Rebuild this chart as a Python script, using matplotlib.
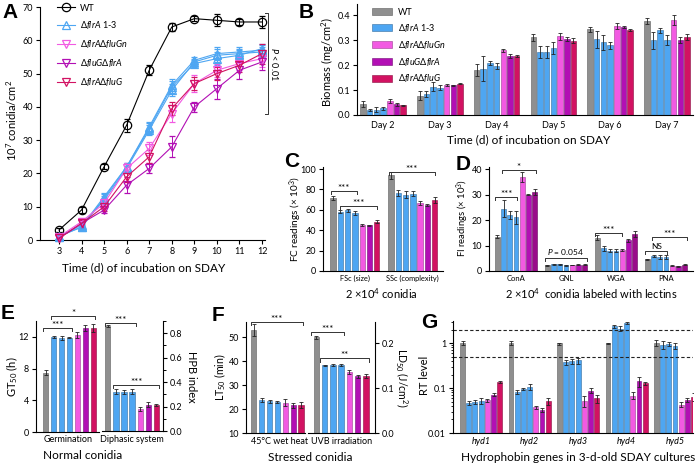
import numpy as np
import matplotlib
matplotlib.use('Agg')
import matplotlib.pyplot as plt
from matplotlib.lines import Line2D
from matplotlib.patches import Patch
from matplotlib.ticker import MultipleLocator, NullFormatter

plt.rcParams['font.family'] = ['Lato', 'DejaVu Sans']
plt.rcParams['mathtext.fontset'] = 'custom'
plt.rcParams['mathtext.rm'] = 'Lato'
plt.rcParams['mathtext.it'] = 'Lato:italic'
plt.rcParams['mathtext.bf'] = 'Lato:bold'
plt.rcParams['mathtext.fallback'] = 'stixsans'
plt.rcParams['axes.linewidth'] = 0.8
plt.rcParams['xtick.major.width'] = 0.8
plt.rcParams['ytick.major.width'] = 0.8
plt.rcParams['xtick.major.size'] = 3
plt.rcParams['ytick.major.size'] = 3
plt.rcParams['xtick.labelsize'] = 6.5
plt.rcParams['ytick.labelsize'] = 6.5
plt.rcParams['xtick.major.pad'] = 2
plt.rcParams['ytick.major.pad'] = 2

# ---------------- data ----------------
strain_labels = ['WT', r'$\Delta\mathit{flrA}$ 1-3', r'$\Delta\mathit{flrA}\Delta\mathit{fluGn}$',
                 r'$\Delta\mathit{fluG}\Delta\mathit{flrA}$', r'$\Delta\mathit{flrA}\Delta\mathit{fluG}$']
c_wt, c_blue, c_pink, c_purple, c_crim = '#8f8f8f', '#4ea6f2', '#f25ae2', '#b20fb4', '#d21262'
c_dpurple = '#9a0c8a'
bar_colors = [c_wt, c_blue, c_blue, c_blue, c_pink, c_purple, c_crim]
bar_colors_d = [c_wt, c_blue, c_blue, c_blue, c_pink, c_purple, c_dpurple]

# Panel A
days_a = [3, 4, 5, 6, 7, 8, 9, 10, 11, 12]
wt_a = [3, 9, 22, 34.5, 51, 64, 66.5, 66, 65.5, 65.5]
wt_a_err = [0.5, 0.8, 0.8, 2, 1.5, 1.3, 0.8, 1.8, 1, 1.8]
flrA1_a = [1, 4, 13, 22, 34, 46.5, 54, 56, 56.5, 57]
flrA2_a = [1, 4.5, 12, 21.5, 33, 45, 53.5, 55.5, 56, 56.5]
flrA3_a = [1.2, 3.8, 12.5, 22, 33.5, 46, 53, 54.5, 55.5, 57.5]
flrA_a_err = [0.5, 0.8, 1.2, 1.2, 1.5, 1.8, 1, 2, 1.5, 1.5]
fluGn_a = [1, 5.5, 11, 21.5, 27.5, 38, 47, 51, 53, 54.5]
fluGn_a_err = [0.5, 1.2, 1.5, 1.5, 2, 2.5, 2.5, 2, 2, 2.5]
fluGflrA_a = [0.5, 5, 9, 16.5, 21.5, 28, 40, 45.5, 51, 53.5]
fluGflrA_a_err = [0.5, 1, 1, 2.5, 1.5, 3.2, 1.5, 3, 2.5, 2.5]
flrAfluG_a = [0.5, 5, 10, 19, 25, 39.5, 47, 50, 52.5, 56]
flrAfluG_a_err = [0.5, 1, 1.2, 1.5, 2, 2, 2, 2, 2, 3]

# Panel B
days_b = ['Day 2', 'Day 3', 'Day 4', 'Day 5', 'Day 6', 'Day 7']
biomass = [[0.043, 0.020, 0.022, 0.027, 0.056, 0.044, 0.039],
           [0.078, 0.085, 0.113, 0.110, 0.120, 0.120, 0.126],
           [0.180, 0.185, 0.209, 0.195, 0.259, 0.236, 0.238],
           [0.311, 0.252, 0.253, 0.268, 0.315, 0.305, 0.298],
           [0.344, 0.303, 0.292, 0.279, 0.357, 0.352, 0.341],
           [0.378, 0.299, 0.340, 0.302, 0.380, 0.300, 0.313]]
biomass_err = [[0.012, 0.003, 0.010, 0.007, 0.007, 0.006, 0.003],
               [0.018, 0.012, 0.018, 0.010, 0.005, 0.002, 0.003],
               [0.025, 0.050, 0.008, 0.012, 0.006, 0.008, 0.004],
               [0.013, 0.025, 0.025, 0.025, 0.013, 0.008, 0.010],
               [0.010, 0.035, 0.030, 0.015, 0.012, 0.003, 0.004],
               [0.012, 0.035, 0.010, 0.020, 0.020, 0.012, 0.012]]

# Panel C
fc_cats = ['FSc (size)', 'SSc (complexity)']
fc_vals = [[71.5, 58, 59.5, 56.5, 45.5, 44.8, 48.5],
           [94, 76.5, 75, 76, 66.5, 64.8, 70]]
fc_err = [[2, 1.5, 1.5, 2, 1, 0.5, 1.5],
          [3.5, 2.5, 3, 2, 2, 1, 3]]

# Panel D
lectins = ['ConA', 'GNL', 'WGA', 'PNA']
fi_vals = [[13.5, 24.5, 22, 21, 37, 30, 31],
           [2.2, 2.6, 2.6, 2.2, 2.3, 2.5, 2.5],
           [13, 9, 8, 8, 8.3, 12, 14.5],
           [4.7, 6, 5.6, 5.4, 2.1, 1.8, 2.4]]
fi_err = [[0.5, 3.5, 1.5, 2.5, 2, 0.3, 1],
          [0.3, 0.2, 0.2, 0.1, 0.1, 0.1, 0.2],
          [1, 1, 0.7, 0.5, 0.5, 0.5, 1.2],
          [0.2, 0.4, 0.8, 0.8, 0.2, 0.1, 0.2]]

# Panel E
gt50 = [7.5, 11.95, 11.85, 11.9, 12.2, 13.1, 13.1]
gt50_err = [0.3, 0.15, 0.3, 0.05, 0.4, 0.4, 0.5]
hpb = [0.86, 0.32, 0.32, 0.32, 0.18, 0.215, 0.21]
hpb_err = [0.005, 0.02, 0.015, 0.02, 0.015, 0.02, 0.008]

# Panel F
lt50 = [52.8, 23.7, 23.2, 23.0, 22.6, 21.6, 21.6]
lt50_err = [2.5, 0.8, 0.6, 0.5, 1.5, 1.0, 1.2]
ld50 = [0.213, 0.151, 0.151, 0.151, 0.136, 0.126, 0.127]
ld50_err = [0.003, 0.001, 0.002, 0.002, 0.004, 0.004, 0.005]

# Panel G
genes = ['hyd1', 'hyd2', 'hyd3', 'hyd4', 'hyd5']
rt_vals = [[1.0, 0.047, 0.049, 0.052, 0.054, 0.071, 0.135],
           [1.0, 0.081, 0.094, 0.105, 0.037, 0.033, 0.051],
           [0.98, 0.38, 0.39, 0.41, 0.052, 0.088, 0.059],
           [0.98, 2.35, 2.1, 2.75, 0.068, 0.14, 0.128],
           [1.0, 0.93, 0.95, 0.88, 0.043, 0.055, 0.064]]
rt_err = [[0.1, 0.004, 0.005, 0.008, 0.004, 0.006, 0.005],
          [0.1, 0.008, 0.005, 0.015, 0.002, 0.003, 0.008],
          [0.05, 0.05, 0.05, 0.06, 0.015, 0.01, 0.012],
          [0.03, 0.2, 0.25, 0.15, 0.012, 0.035, 0.01],
          [0.15, 0.2, 0.1, 0.15, 0.005, 0.006, 0.012]]

# ---------------- helpers ----------------
W, H = 696, 465
fig = plt.figure(figsize=(W / 100, H / 100), dpi=100)


def ax_px(x0, y0, x1, y1):
    return fig.add_axes([x0 / W, 1 - y1 / H, (x1 - x0) / W, (y1 - y0) / H])


def ftxt(x, y, s, **kw):
    return fig.text(x / W, 1 - y / H, s, **kw)


def letter(x, y, s):
    ftxt(x, y, s, fontsize=15, fontweight='bold', family='Liberation Sans', va='top', ha='left')


def style(ax, right=False):
    ax.spines['top'].set_visible(False)
    if right:
        ax.spines['left'].set_visible(False)
        ax.yaxis.tick_right()
    else:
        ax.spines['right'].set_visible(False)


def darker(c, f=0.65):
    rgb = np.array(matplotlib.colors.to_rgb(c))
    return tuple(rgb * f)


def grouped(ax, centers, vals, errs, pitch, width, colors=bar_colors):
    vals = np.asarray(vals)
    errs = np.asarray(errs)
    centers = np.asarray(centers, dtype=float)
    for i in range(7):
        ax.bar(centers + (i - 3) * pitch, vals[:, i], width, color=colors[i],
               edgecolor=darker(colors[i]), linewidth=0.4,
               yerr=errs[:, i], capsize=1.3,
               error_kw=dict(elinewidth=0.6, capthick=0.6, ecolor='#222222'))


def bracket(ax, x1, x2, y, tick, text, fs=7, dy=0.0):
    ax.plot([x1, x1, x2, x2], [y - tick, y, y, y - tick], color='#333333', lw=0.7,
            clip_on=False)
    ax.annotate(text, ((x1 + x2) / 2, y), xytext=(0, 1 + dy), textcoords='offset points',
                ha='center', va='bottom', fontsize=fs, annotation_clip=False)


def single_group(ax, vals, errs):
    xs = np.arange(7) - 3
    ax.bar(xs, vals, 0.66, color=bar_colors, edgecolor=[darker(c) for c in bar_colors],
           linewidth=0.4, yerr=errs, capsize=1.3,
           error_kw=dict(elinewidth=0.6, capthick=0.6, ecolor='#222222'))
    return xs


# ---------------- Panel A ----------------
axA = ax_px(40, 7, 265, 240)
style(axA)
series_a = [(wt_a, wt_a_err, 'k', 'o'),
            (flrA1_a, flrA_a_err, c_blue, '^'),
            (flrA2_a, flrA_a_err, c_blue, '^'),
            (flrA3_a, flrA_a_err, c_blue, '^'),
            (fluGn_a, fluGn_a_err, c_pink, 'v'),
            (fluGflrA_a, fluGflrA_a_err, c_purple, 'v'),
            (flrAfluG_a, flrAfluG_a_err, c_crim, 'v')]
for y, e, c, m in series_a:
    axA.errorbar(days_a, y, yerr=e, color=c, marker=m, mfc='none', mec=c, ms=6, mew=0.9,
                 lw=0.8, capsize=2.5, elinewidth=0.7, capthick=0.7, clip_on=False, zorder=3)
axA.set_xlim(2.16, 12.13)
axA.set_ylim(0, 70)
axA.set_xticks(days_a)
axA.set_yticks(range(0, 71, 10))
handles_a = [Line2D([], [], color=c, marker=m, mfc='none', ms=6, mew=0.9, lw=0.8)
             for c, m in [('k', 'o'), (c_blue, '^'), (c_pink, 'v'), (c_purple, 'v'), (c_crim, 'v')]]
axA.legend(handles_a, strain_labels, loc='upper left', bbox_to_anchor=(0.06, 1.03),
           frameon=False, fontsize=6.5, handlelength=2.0, labelspacing=0.75,
           handletextpad=0.5, borderaxespad=0)
xb = 12.25
axA.plot([xb - 0.12, xb, xb, xb - 0.12], [68.2, 68.2, 38, 38], color='#333333', lw=0.7,
         clip_on=False)
axA.text(xb + 0.3, 53, r'$\mathit{P}$ < 0.01', rotation=-90, fontsize=6.5, va='center',
         ha='center', clip_on=False)
ftxt(12, 120, r'10$^7$ conidia/cm$^2$', rotation=90, fontsize=8, ha='center', va='center')
ftxt(144, 268, 'Time (d) of incubation on SDAY', fontsize=8.5, ha='center', va='center')
letter(2, 3, 'A')

# ---------------- Panel B ----------------
axB = ax_px(357, 4, 693, 115)
style(axB)
grouped(axB, np.arange(2, 8), biomass, biomass_err, 0.118, 0.097)
axB.set_xlim(1.54, 7.46)
axB.set_ylim(0, 0.445)
axB.set_yticks([0, 0.1, 0.2, 0.3, 0.4])
axB.yaxis.set_major_formatter(matplotlib.ticker.FormatStrFormatter('%.1f'))
axB.set_xticks(np.arange(2, 8))
axB.set_xticklabels(days_b)
axB.tick_params(axis='x', length=0, pad=4)
handles_b = [Patch(facecolor=c, edgecolor=darker(c), lw=0.4)
             for c in [c_wt, c_blue, c_pink, c_purple, c_crim]]
axB.legend(handles_b, strain_labels, loc='upper left', bbox_to_anchor=(0.035, 1.0),
           frameon=False, fontsize=6.5, handlelength=2.2, handleheight=0.9,
           labelspacing=0.55, handletextpad=0.6, borderaxespad=0)
ftxt(328, 62, r'Biomass (mg/cm$^2$)', rotation=90, fontsize=8, ha='center', va='center')
ftxt(529, 140, 'Time (d) of incubation on SDAY', fontsize=8.5, ha='center', va='center')
letter(299, 3, 'B')

# ---------------- Panel C ----------------
axC = ax_px(323, 167, 443, 271)
style(axC)
pC, wC = 0.126, 0.092
grouped(axC, [0, 1], fc_vals, fc_err, pC, wC)
axC.set_xlim(-0.55, 1.52)
axC.set_ylim(0, 102)
axC.set_yticks(range(0, 101, 20))
axC.set_xticks([0, 1])
axC.set_xticklabels(fc_cats, fontsize=5.3)
axC.tick_params(axis='x', length=0, pad=3)
bracket(axC, 0 - 3 * pC - 0.04, 0 + 0 * pC + 0.04, 78.4, 3, '***', dy=-2.5)
bracket(axC, 0 - 2 * pC, 0 + 3 * pC + 0.01, 64, 3, '***', dy=-2.5)
bracket(axC, 1 - 3 * pC - 0.04, 1 + 3 * pC + 0.01, 97, 3, '***', dy=-2.5)
ftxt(296, 219, r'FC readings ($\times$ 10$^3$)', rotation=90, fontsize=7.2, ha='center',
     va='center')
ftxt(381, 294, r'2 $\times$10$^4$ conidia', fontsize=8, ha='center', va='center')
letter(284, 152, 'C')

# ---------------- Panel D ----------------
axD = ax_px(489, 167, 693, 271)
style(axD)
pD, wD = 0.124, 0.095
grouped(axD, [0, 1, 2, 3], fi_vals, fi_err, pD, wD, colors=bar_colors_d)
axD.set_xlim(-0.54, 3.54)
axD.set_ylim(0, 40.8)
axD.set_yticks(range(0, 41, 10))
axD.set_xticks([0, 1, 2, 3])
axD.set_xticklabels(lectins, fontsize=5.5)
axD.tick_params(axis='x', length=0, pad=3)


def pos(g, i, p=pD):
    return g + (i - 3) * p


bracket(axD, pos(0, 0) - 0.04, pos(0, 3) + 0.02, 28.9, 1.2, '***', dy=-2.5)
bracket(axD, pos(0, 1) - 0.04, pos(0, 6) + 0.02, 39.6, 1.2, '*', dy=-2.5)
bracket(axD, pos(1, 0) - 0.04, pos(1, 6) + 0.04, 5.0, 1.2, r'$\mathit{P}$ = 0.054', fs=6)
bracket(axD, pos(2, 0) - 0.04, pos(2, 4) + 0.0, 14.8, 1.2, '***', dy=-2.5)
bracket(axD, pos(3, 0) - 0.04, pos(3, 3) + 0.02, 7.8, 1.2, 'NS', fs=6)
bracket(axD, pos(3, 1) - 0.04, pos(3, 6) + 0.04, 13.5, 1.2, '***', dy=-2.5)
ftxt(463, 218, r'FI readings ($\times$ 10$^3$)', rotation=90, fontsize=6.8, ha='center',
     va='center')
ftxt(591, 294, r'2 $\times$10$^4$  conidia labeled with lectins', fontsize=8, ha='center',
     va='center')
letter(456, 155, 'D')

# ---------------- Panel E ----------------
axE1 = ax_px(36, 321, 99, 432)
style(axE1)
xs7 = single_group(axE1, gt50, gt50_err)
axE1.set_xlim(-4.2, 3.7)
axE1.set_ylim(0, 14)
axE1.set_yticks([0, 4, 8, 12])
axE1.set_xticks([])
bracket(axE1, xs7[0] - 0.3, xs7[3] + 0.3, 13.1, 0.4, '***', dy=-2.5)
bracket(axE1, xs7[1] - 0.3, xs7[6] + 0.2, 14.6, 0.4, '*', dy=-2.5)

axE2 = ax_px(102, 321, 163, 431)
style(axE2, right=True)
single_group(axE2, hpb, hpb_err)
axE2.set_xlim(-3.7, 3.8)
axE2.set_ylim(0, 0.9)
axE2.set_yticks([0, 0.2, 0.4, 0.6, 0.8])
axE2.yaxis.set_minor_locator(MultipleLocator(0.1))
axE2.tick_params(axis='y', which='minor', length=2, width=0.7)
axE2.yaxis.set_major_formatter(matplotlib.ticker.FormatStrFormatter('%.1f'))
axE2.set_xticks([])
bracket(axE2, xs7[0] - 0.3, xs7[3] + 0.5, 0.887, 0.025, '***', dy=-2.5)
bracket(axE2, xs7[1] - 0.3, xs7[6] + 0.3, 0.375, 0.025, '***', dy=-2.5)
ftxt(68, 439, 'Germination', fontsize=6.5, ha='center', va='center')
ftxt(132, 439, 'Diphasic system', fontsize=6.5, ha='center', va='center')
ftxt(83, 455, 'Normal conidia', fontsize=8.5, ha='center', va='center')
ftxt(12, 377, r'GT$_{50}$ (h)', rotation=90, fontsize=8, ha='center', va='center')
ftxt(192, 377, 'HPB index', rotation=-90, fontsize=8, ha='center', va='center')
letter(1, 304, 'E')

# ---------------- Panel F ----------------
axF1 = ax_px(246, 322, 305, 433)
style(axF1)
single_group(axF1, lt50, lt50_err)
axF1.set_xlim(-4.0, 3.5)
axF1.set_ylim(10, 56.3)
axF1.set_yticks([10, 20, 30, 40, 50])
axF1.set_xticks([])
bracket(axF1, xs7[0] - 0.4, xs7[6] + 0.2, 56.4, 1.2, '***', dy=-2.5)

axF2 = ax_px(308, 322, 375, 433)
style(axF2, right=True)
single_group(axF2, ld50, ld50_err)
axF2.set_xlim(-4.0, 4.1)
axF2.set_ylim(0, 0.247)
axF2.set_yticks([0, 0.1, 0.2])
axF2.yaxis.set_major_formatter(matplotlib.ticker.FormatStrFormatter('%.1f'))
axF2.set_xticks([])
bracket(axF2, xs7[0] - 0.6, xs7[3] + 0.3, 0.224, 0.007, '***', dy=-2.5)
bracket(axF2, xs7[1] - 0.6, xs7[6] + 0.4, 0.166, 0.007, '**', dy=-2.5)
ftxt(280, 441, '45°C wet heat', fontsize=6.5, ha='center', va='center')
ftxt(342, 441, 'UVB irradiation', fontsize=6.5, ha='center', va='center')
ftxt(310, 457, 'Stressed conidia', fontsize=8.5, ha='center', va='center')
ftxt(220, 377, r'LT$_{50}$ (min)', rotation=90, fontsize=7.6, ha='center', va='center')
ftxt(402, 378, r'LD$_{50}$ (J/cm$^2$)', rotation=-90, fontsize=7.6, ha='center', va='center')
letter(212, 306, 'F')

# ---------------- Panel G ----------------
axG = ax_px(453, 321, 693, 433)
style(axG)
axG.set_yscale('log')
pG, wG = 0.128, 0.1
grouped(axG, np.arange(5), rt_vals, rt_err, pG, wG)
axG.set_xlim(-0.58, 4.37)
axG.set_ylim(0.01, 3.1)
axG.axhline(2, color='#222222', lw=0.8, ls=(0, (3, 2)))
axG.axhline(0.5, color='#222222', lw=0.8, ls=(0, (3, 2)))
axG.set_yticks([0.01, 0.1, 1])
axG.set_yticklabels(['0.01', '0.1', '1'])
axG.yaxis.set_minor_formatter(NullFormatter())
axG.tick_params(axis='y', which='minor', length=1.8, width=0.6)
axG.set_xticks(np.arange(5))
axG.set_xticklabels(genes, fontsize=6.5, style='italic')
axG.tick_params(axis='x', length=0, pad=3)
ftxt(425, 375, 'RT level', rotation=90, fontsize=8, ha='center', va='center')
ftxt(578, 457, 'Hydrophobin genes in 3-d-old SDAY cultures', fontsize=8.5, ha='center',
     va='center')
letter(421, 313, 'G')

fig.savefig('out.png', dpi=100)
